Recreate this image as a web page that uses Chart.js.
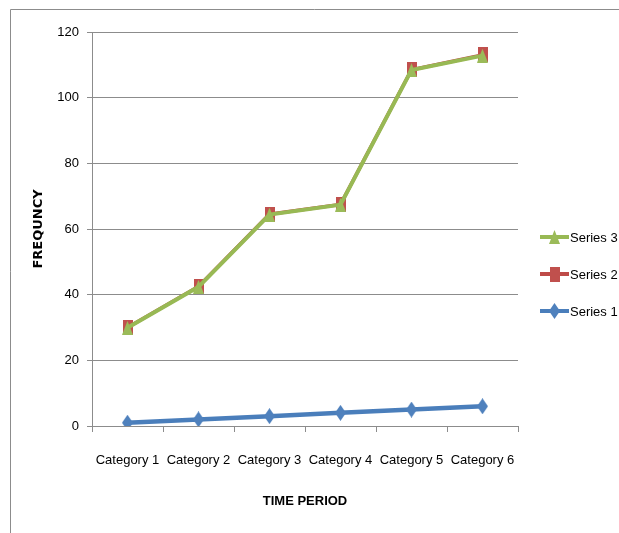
<!DOCTYPE html>
<html>
<head>
<meta charset="utf-8">
<script src="https://cdn.jsdelivr.net/npm/chart.js@4.4.1/dist/chart.umd.min.js"></script>
<style>
  html, body { margin: 0; padding: 0; background: #fff; }
  #wrap { position: relative; width: 619px; height: 533px; }
</style>
</head>
<body>
<div id="wrap"><canvas id="c" width="619" height="533"></canvas></div>
<script>
// Frequency over six time periods, three series
const categories = ['Category 1', 'Category 2', 'Category 3', 'Category 4', 'Category 5', 'Category 6'];
const series1 = [1, 2, 3, 4, 5, 6];
const series2 = [30, 42.5, 64.5, 67.5, 108.5, 113];
const series3 = [29.9, 42.4, 64.4, 67.4, 108.4, 112.8];
const seriesNames = ['Series 1', 'Series 2', 'Series 3'];
const yMin = 0, yMax = 120, yStep = 20;

const SANS = "'Liberation Sans', Arial, sans-serif";
const GRID = '#8c8c8c';
const BLUE = '#4A7EBB', RED = '#BE4B48', GREEN = '#98B954';

// Marker images (tall diamond / square / triangle)
function marker(shape, w, h, color) {
  const c = document.createElement('canvas');
  c.width = w; c.height = h;
  const g = c.getContext('2d');
  g.fillStyle = color;
  g.beginPath();
  if (shape === 'diamond') {
    g.moveTo(w / 2, 0); g.lineTo(w, h / 2); g.lineTo(w / 2, h); g.lineTo(0, h / 2);
  } else if (shape === 'square') {
    g.rect(0, 0, w, h);
  } else {
    g.moveTo(w / 2, 0); g.lineTo(w, h); g.lineTo(0, h);
  }
  g.closePath();
  g.fill();
  return c;
}

const diamond = marker('diamond', 11, 16, '#4F81BD');
const square = marker('square', 10, 15, '#C0504D');
const triangle = marker('triangle', 11, 14, '#9BBB59');

// Outer frame: top and left edges of the bordered chart box
const framePlugin = {
  id: 'frame',
  beforeDraw(chart) {
    const ctx = chart.ctx;
    ctx.save();
    ctx.strokeStyle = '#8c8c8c';
    ctx.lineWidth = 1;
    ctx.beginPath();
    ctx.moveTo(10.5, 533);
    ctx.lineTo(10.5, 9.5);
    ctx.lineTo(619, 9.5);
    ctx.stroke();
    ctx.restore();
  }
};

// Legend on the right: line with marker, series listed top-down in reverse
const legendPlugin = {
  id: 'sideLegend',
  afterDraw(chart) {
    const ctx = chart.ctx;
    const rows = [237, 274, 311];
    const items = chart.data.datasets.slice().reverse();
    ctx.save();
    items.forEach((d, i) => {
      const y = rows[i];
      ctx.strokeStyle = d.borderColor;
      ctx.lineWidth = 4;
      ctx.beginPath();
      ctx.moveTo(540, y);
      ctx.lineTo(569, y);
      ctx.stroke();
      const img = d.pointStyle;
      ctx.drawImage(img, 554.5 - img.width / 2, y - img.height / 2);
      ctx.fillStyle = '#000';
      ctx.font = '13px ' + SANS;
      ctx.textBaseline = 'middle';
      ctx.textAlign = 'left';
      ctx.fillText(d.label, 570, y + 1);
    });
    ctx.restore();
  }
};

new Chart(document.getElementById('c'), {
  type: 'line',
  data: {
    labels: categories,
    datasets: [
      {
        label: seriesNames[0], data: series1, order: 2,
        borderColor: BLUE, borderWidth: 4.5,
        pointStyle: diamond, pointRadius: 8, pointHoverRadius: 8
      },
      {
        label: seriesNames[1], data: series2, order: 1,
        borderColor: RED, borderWidth: 3.5,
        pointStyle: square, pointRadius: 8, pointHoverRadius: 8
      },
      {
        label: seriesNames[2], data: series3, order: 0,
        borderColor: GREEN, borderWidth: 4,
        pointStyle: triangle, pointRadius: 8, pointHoverRadius: 8
      }
    ]
  },
  options: {
    responsive: false,
    animation: false,
    devicePixelRatio: 1,
    layout: { padding: { top: 32, right: 101, left: 0, bottom: 0 } },
    plugins: {
      legend: { display: false },
      tooltip: { enabled: false }
    },
    elements: { line: { tension: 0 } },
    scales: {
      x: {
        offset: true,
        grid: { offset: true, drawOnChartArea: false, drawTicks: true, tickLength: 6, color: GRID },
        border: { display: true, color: GRID, width: 1 },
        ticks: { font: { family: SANS, size: 13 }, color: '#000', padding: 21, maxRotation: 0, autoSkip: false },
        title: {
          display: true, text: 'TIME PERIOD', color: '#000',
          font: { family: SANS, size: 13, weight: 'bold' },
          padding: { top: 0, bottom: 24 }
        },
        afterFit(s) { s.height = 107; }
      },
      y: {
        min: yMin, max: yMax,
        grid: { color: GRID, tickLength: 5, drawTicks: true },
        border: { display: true, color: GRID, width: 1 },
        ticks: { stepSize: yStep, font: { family: SANS, size: 13 }, color: '#000', padding: 8 },
        title: {
          display: true, text: 'FREQUNCY', color: '#000',
          font: { family: "'DejaVu Sans', Verdana, sans-serif", size: 13, weight: 'bold' },
          padding: { top: 31, bottom: 0 }
        },
        afterFit(s) { s.width = 92; }
      }
    }
  },
  plugins: [framePlugin, legendPlugin]
});
</script>
</body>
</html>
